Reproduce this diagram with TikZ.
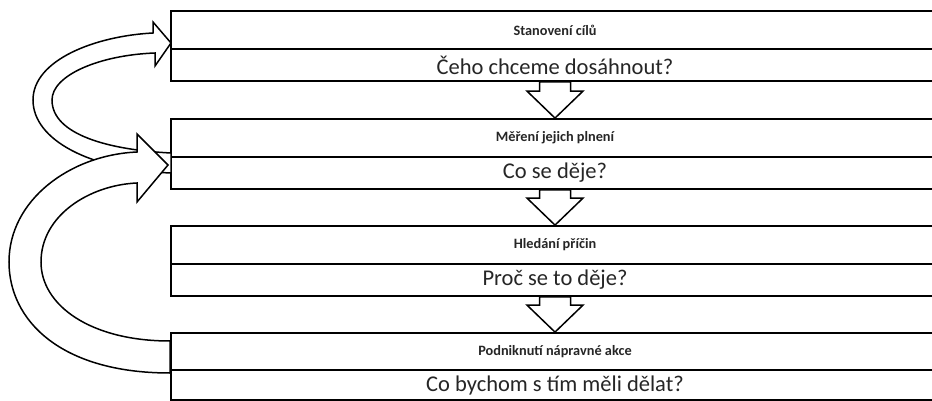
\documentclass[tikz,border=0pt]{standalone}
\usepackage{fontspec}
\setmainfont{Carlito}
\begin{document}
\begin{tikzpicture}[x=1pt,y=-1pt,
  row/.style={draw=black, line width=1.8pt, minimum width=768pt, inner sep=0pt, fill=white, text=black!85},
  titlebox/.style={row, minimum height=38pt, font=\bfseries\fontsize{14.3}{16}\selectfont},
  textbox/.style={row, font=\fontsize{22.5}{26}\selectfont},
  downarrow/.style={draw=black, line width=1.5pt, fill=white, line join=miter},
  curvearrow/.style={draw=black, line width=1.5pt, fill=white, line join=miter}]
\useasboundingbox (0,0) rectangle (932,401);
\clip (0,0) rectangle (932,401);
% boxes
\node[titlebox] (t1) at (555,30) {Stanovení cílů};
\node[textbox, minimum height=32pt] (c1) at (555,65) {Čeho chceme dosáhnout?};
\node[titlebox] (t2) at (555,138) {Měření jejich plnení};
\node[textbox, minimum height=32pt] (c2) at (555,173) {Co se děje?};
\node[titlebox] (t3) at (555,245) {Hledání příčin};
\node[textbox, minimum height=32pt] (c3) at (555,280) {Proč se to děje?};
\node[titlebox, minimum height=37pt] (t4) at (555,351.5) {Podniknutí nápravné akce};
\node[textbox, minimum height=30pt] (c4) at (555,385) {Co bychom s tím měli dělat?};
% down arrows
\foreach \a/\b in {c1/t2, c2/t3, c3/t4}{
  \draw[downarrow] ([xshift=-15.5pt]\a.south) -- ([xshift=-15.5pt,yshift=27pt]\b.north)
    -- ([xshift=-28pt,yshift=27pt]\b.north) -- (\b.north)
    -- ([xshift=28pt,yshift=27pt]\b.north) -- ([xshift=15.5pt,yshift=27pt]\b.north)
    -- ([xshift=15.5pt]\a.south) -- cycle;
}
% feedback arrow: measuring -> goals
\draw[curvearrow] (171,173) .. controls (90,170) and (33,140) .. (33,100)
  .. controls (33,60) and (95,36) .. (153,33) -- (153,22) -- (171,43) -- (155,66) -- (155,53)
  .. controls (100,55) and (52,75) .. (52,100)
  .. controls (52,135) and (110,150) .. (171,153) -- cycle;
% feedback arrow: action -> measuring
\draw[curvearrow] (170,373) .. controls (60,373) and (9,320) .. (9,262)
  .. controls (9,200) and (70,155) .. (137,152) -- (137,134) -- (168,165) -- (137,202) -- (137,183)
  .. controls (90,185) and (41,215) .. (41,262)
  .. controls (41,305) and (90,341) .. (170,341) -- cycle;
\end{tikzpicture}
\end{document}
